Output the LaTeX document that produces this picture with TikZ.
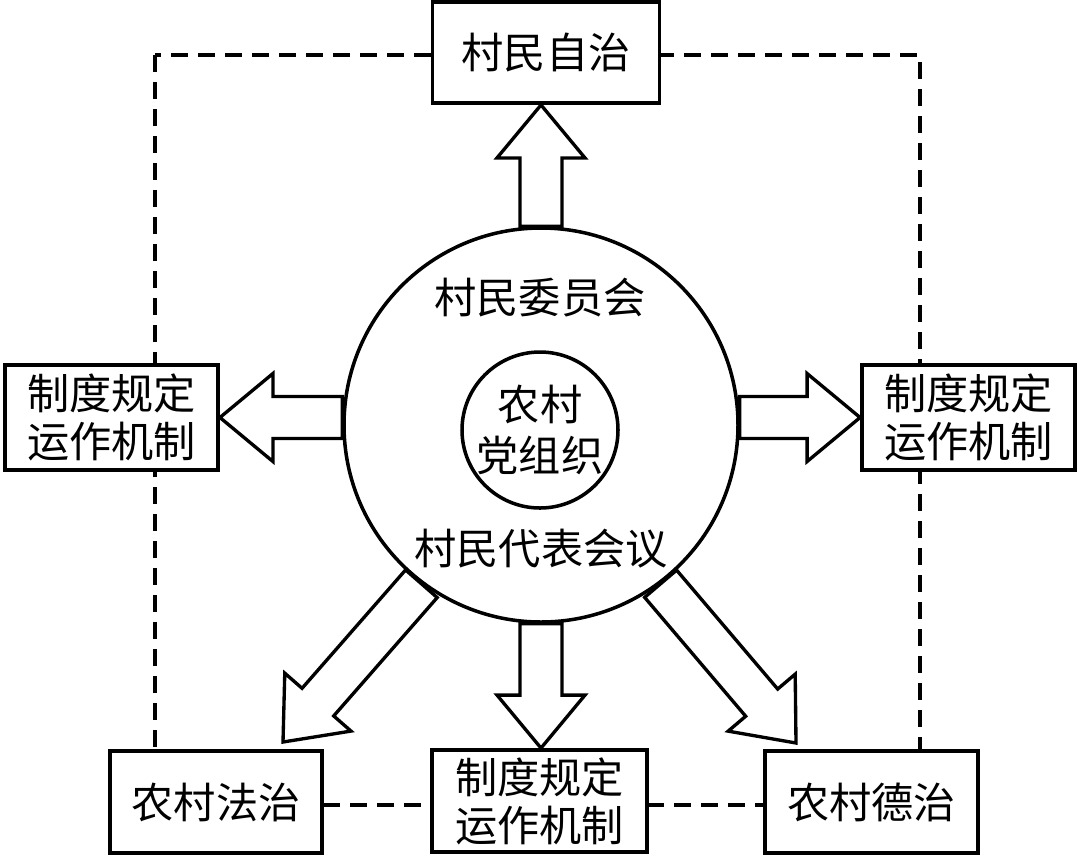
\documentclass[tikz,border=0pt]{standalone}
\usepackage{fontspec}
\setmainfont{Noto Sans CJK SC}
\usetikzlibrary{calc}
\tikzset{
  govbox/.style={
    draw=black,
    line width=1.1pt,
    fill=white,
    align=center,
    inner sep=0pt,
    minimum width=2.13cm,
    minimum height=1.02cm,
    font=\fontsize{12}{13.6}\selectfont
  },
  ring/.style={circle,draw=black,line width=1pt,fill=white,inner sep=0pt,align=center,
    font=\fontsize{12}{14.6}\selectfont},
  ringtext/.style={inner sep=0pt,font=\fontsize{12}{13.6}\selectfont},
  hollowarrow/.style={draw=black,line width=0.95pt,fill=white,line join=miter},
  boundary/.style={draw=black,line width=1.4pt,dash pattern=on 0.17cm off 0.10cm}
}
% hollow block arrow from #1 to the tip #2
\newcommand{\blockarrow}[2]{%
  \coordinate (hb) at ($(#2)!0.53cm!(#1)$);
  \draw[hollowarrow] ($(#1)!0.21cm!90:(#2)$) -- ($(hb)!0.21cm!90:(#2)$)
    -- ($(hb)!0.44cm!90:(#2)$) -- (#2) -- ($(hb)!0.44cm!-90:(#2)$)
    -- ($(hb)!0.21cm!-90:(#2)$) -- ($(#1)!0.21cm!-90:(#2)$) -- cycle;
}
\begin{document}
\begin{tikzpicture}
  \useasboundingbox (0,0) rectangle (10.80,-8.54);
  % dashed frame behind the boxes
  \coordinate (frametl) at (1.55,-0.55);
  \coordinate (framebr) at (9.20,-8.05);
  \draw[boundary] (frametl) rectangle (framebr);

  \node[ring,minimum size=3.94cm] (outer) at (5.41,-4.25) {};
  \node[ringtext] (weiyuanhui) at (5.40,-2.98) {村民委员会};
  \node[ringtext] (daibiao) at (5.41,-5.49) {村民代表会议};
  \node[ring,minimum size=1.56cm] (party) at (5.40,-4.30) {农村\\党组织};

  \node[govbox,minimum width=2.27cm,minimum height=1.01cm] (zizhi) at (5.46,-0.525) {村民自治};
  \node[govbox,minimum height=1.05cm] (leftrule) at (1.115,-4.175) {制度规定\\运作机制};
  \node[govbox,minimum height=1.05cm] (rightrule) at (9.685,-4.175) {制度规定\\运作机制};
  \node[govbox,minimum width=2.12cm] (fazhi) at (2.16,-8.02) {农村法治};
  \node[govbox,minimum width=2.15cm] (midrule) at (5.395,-8.01) {制度规定\\运作机制};
  \node[govbox,minimum width=2.13cm] (dezhi) at (8.715,-8.02) {农村德治};

  \coordinate (toptip) at (outer.90 |- zizhi.south);
  \coordinate (lefttail) at (outer.west |- leftrule.east);
  \coordinate (righttail) at (outer.east |- rightrule.west);
  \coordinate (midtip) at (outer.270 |- midrule.north);
  \coordinate (fazhitip) at (2.83,-7.42);
  \coordinate (dezhitip) at (7.96,-7.43);

  \blockarrow{outer.90}{toptip}
  \blockarrow{lefttail}{leftrule.east}
  \blockarrow{righttail}{rightrule.west}
  \blockarrow{outer.270}{midtip}
  \blockarrow{outer.233}{fazhitip}
  \blockarrow{outer.307}{dezhitip}
\end{tikzpicture}
\end{document}
